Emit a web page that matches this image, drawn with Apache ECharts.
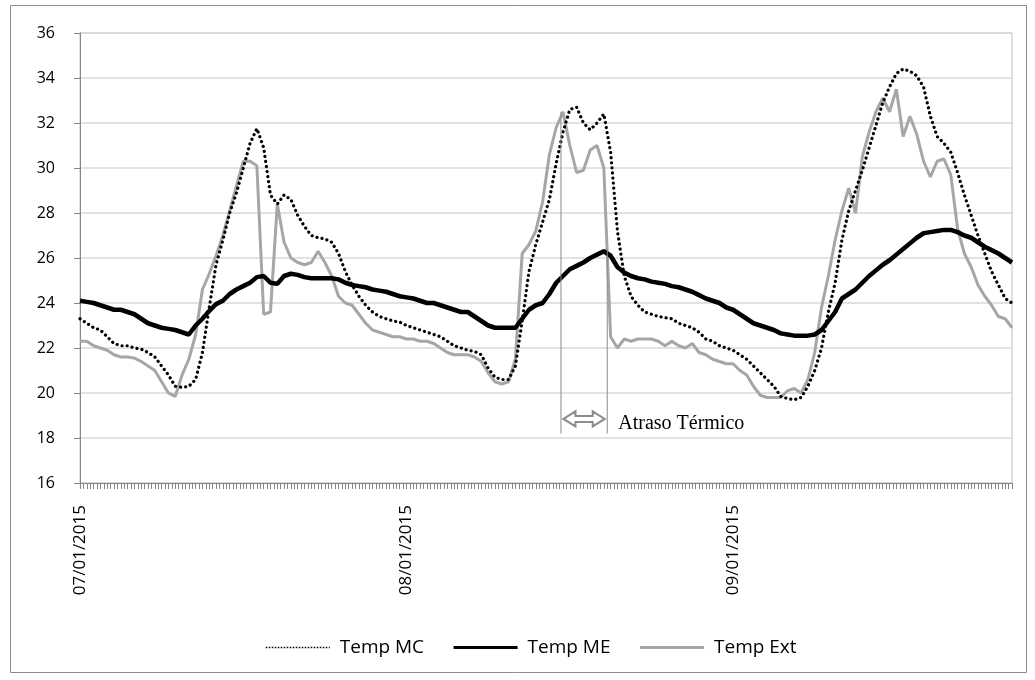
<!DOCTYPE html>
<html>
<head>
<meta charset="utf-8">
<script src="https://cdn.jsdelivr.net/npm/echarts@6/dist/echarts.min.js"></script>
<style>
html,body{margin:0;padding:0;background:#fff;}
#c{width:1035px;height:680px;}
</style>
</head>
<body>
<div id="c"></div>
<script>
// ---- data (half-hour readings, 07/01/2015 00:00 onward) ----
const dayLabels = ['07/01/2015', '08/01/2015', '09/01/2015'];
const yTicks = [16, 18, 20, 22, 24, 26, 28, 30, 32, 34, 36];

const tempMC = [
 23.3,23.1,22.9,22.8,22.5,22.2,22.1,22.1,22.0,21.95,21.8,21.6,21.2,20.8,20.3,20.25,20.3,20.6,21.8,23.8,
 25.7,26.8,28.0,28.9,30.0,31.1,31.75,30.9,28.8,28.4,28.8,28.6,27.9,27.4,27.0,26.9,26.85,26.7,26.2,25.4,
 24.8,24.3,23.9,23.6,23.4,23.3,23.2,23.15,23.0,22.9,22.8,22.7,22.6,22.5,22.3,22.1,22.0,21.9,21.85,21.7,
 21.1,20.7,20.6,20.6,21.2,23.2,25.4,26.6,27.6,28.6,30.2,31.6,32.6,32.7,32.0,31.7,32.0,32.4,30.7,27.2,
 25.2,24.3,23.9,23.6,23.5,23.4,23.35,23.3,23.1,23.0,22.9,22.7,22.4,22.3,22.1,22.0,21.9,21.7,21.5,21.2,
 20.9,20.6,20.3,19.85,19.75,19.7,19.8,20.3,21.0,22.0,23.6,24.9,26.8,28.1,29.0,29.9,30.9,31.9,32.9,33.6,
 34.2,34.4,34.3,34.1,33.6,32.3,31.4,31.1,30.7,29.8,28.8,27.9,27.0,26.2,25.4,24.8,24.2,24.0
];
const tempME = [
 24.1,24.05,24.0,23.9,23.8,23.7,23.7,23.6,23.5,23.3,23.1,23.0,22.9,22.85,22.8,22.7,22.6,23.0,23.3,23.65,
 23.95,24.1,24.4,24.6,24.75,24.9,25.15,25.2,24.9,24.85,25.2,25.3,25.25,25.15,25.1,25.1,25.1,25.1,25.05,24.9,
 24.8,24.75,24.7,24.6,24.55,24.5,24.4,24.3,24.25,24.2,24.1,24.0,24.0,23.9,23.8,23.7,23.6,23.6,23.4,23.2,
 23.0,22.9,22.9,22.9,22.9,23.3,23.7,23.9,24.0,24.4,24.9,25.2,25.5,25.65,25.8,26.0,26.15,26.3,26.1,25.6,
 25.35,25.2,25.1,25.05,24.95,24.9,24.85,24.75,24.7,24.6,24.5,24.35,24.2,24.1,24.0,23.8,23.7,23.5,23.3,23.1,
 23.0,22.9,22.8,22.65,22.6,22.55,22.55,22.55,22.6,22.8,23.2,23.6,24.2,24.4,24.6,24.9,25.2,25.45,25.7,25.9,
 26.15,26.4,26.65,26.9,27.1,27.15,27.2,27.25,27.25,27.15,27.0,26.9,26.7,26.5,26.35,26.2,26.0,25.8
];
const tempExt = [
 22.3,22.3,22.1,22.0,21.9,21.7,21.6,21.6,21.55,21.4,21.2,21.0,20.5,20.0,19.85,20.8,21.5,22.6,24.6,25.3,
 26.1,27.0,28.1,29.2,30.3,30.3,30.1,23.5,23.6,28.4,26.7,26.0,25.8,25.7,25.8,26.3,25.8,25.2,24.3,24.0,
 23.9,23.5,23.1,22.8,22.7,22.6,22.5,22.5,22.4,22.4,22.3,22.3,22.2,22.0,21.8,21.7,21.7,21.7,21.6,21.4,
 20.9,20.5,20.4,20.5,21.5,26.2,26.6,27.2,28.5,30.6,31.8,32.5,31.0,29.8,29.9,30.8,31.0,30.0,22.5,22.0,
 22.4,22.3,22.4,22.4,22.4,22.3,22.1,22.3,22.1,22.0,22.2,21.8,21.7,21.5,21.4,21.3,21.3,21.0,20.8,20.3,
 19.9,19.8,19.8,19.8,20.1,20.2,20.0,20.6,21.8,23.8,25.2,26.8,28.1,29.1,28.0,30.5,31.6,32.5,33.1,32.5,
 33.5,31.4,32.3,31.5,30.3,29.6,30.3,30.4,29.7,27.3,26.2,25.6,24.8,24.3,23.9,23.4,23.3,22.9
];

// thermal lag annotation (positions in half-hour steps / °C)
const lagMarks = [70.7, 77.5];
const lagTops = [32.5, 26.4];
const lagBottom = 18.2;
const lagArrowValue = 18.85;
const lagText = 'Atraso Térmico';

// category labels: one per half hour
const stepsPerDay = 48;
const categories = tempME.map((_, i) => {
  const d = dayLabels[Math.floor(i / stepsPerDay)];
  const m = (i % stepsPerDay) * 30;
  const hh = String(Math.floor(m / 60)).padStart(2, '0');
  const mm = String(m % 60).padStart(2, '0');
  return d + ' ' + hh + ':' + mm;
});

const chart = echarts.init(document.getElementById('c'), null, {renderer: 'canvas'});
const axisGray = '#868686';
const font = 'Open Sans';

const option = {
  animation: false,
  backgroundColor: '#fff',
  grid: {left: 80, right: 23, top: 33, bottom: 197, show: true, borderColor: '#bfbfbf', borderWidth: 1},
  xAxis: [{
    type: 'category', data: categories, boundaryGap: false,
    axisLine: {lineStyle: {color: axisGray, width: 1}},
    axisTick: {show: false},
    axisLabel: {interval: stepsPerDay - 1, rotate: 90, margin: 22, fontFamily: font, fontSize: 17, color: '#000',
      formatter: v => v.split(' ')[0]},
    splitLine: {show: false}
  }, {
    type: 'value', min: 0, max: categories.length - 1, interval: 0.5, position: 'bottom',
    axisLine: {show: false},
    axisTick: {show: true, length: 6, lineStyle: {color: axisGray}},
    axisLabel: {show: false},
    splitLine: {show: false}
  }],
  yAxis: {
    type: 'value', min: yTicks[0], max: yTicks[yTicks.length - 1], interval: 2,
    axisLine: {show: true, lineStyle: {color: axisGray, width: 1}},
    axisTick: {show: true, length: 6, lineStyle: {color: axisGray}},
    axisLabel: {margin: 25, fontFamily: font, fontSize: 16, color: '#000'},
    splitLine: {lineStyle: {color: '#d9d9d9', width: 1.5}}
  },
  legend: {
    left: 260, top: 633, itemWidth: 64, itemHeight: 14, itemGap: 28,
    itemStyle: {opacity: 0},
    formatter: n => '{t|' + n + '}',
    textStyle: {fontFamily: font, fontSize: 19, color: '#000',
      rich: {t: {fontFamily: font, fontSize: 19, color: '#000', padding: [0, 0, 0, 5]}}},
    data: [
      {name: 'Temp MC', lineStyle: {width: 1.5, type: [1.5, 1.5], cap: 'butt'}},
      {name: 'Temp ME', lineStyle: {width: 3}},
      {name: 'Temp Ext', lineStyle: {width: 3}}
    ]
  },
  series: [
    {name: 'Temp Ext', type: 'line', data: tempExt, symbol: 'none', z: 2,
      lineStyle: {color: '#a6a6a6', width: 3}, itemStyle: {color: '#a6a6a6'}},
    {name: 'Temp ME', type: 'line', data: tempME, symbol: 'none', z: 3,
      lineStyle: {color: '#000', width: 4.5}, itemStyle: {color: '#000'}},
    {name: 'Temp MC', type: 'line', data: tempMC, symbol: 'none', z: 4,
      lineStyle: {color: '#000', width: 3.2, type: [0.1, 5], cap: 'round'}, itemStyle: {color: '#000'}}
  ]
};
chart.setOption(option);

// annotation drawn from axis coordinates
const px = v => chart.convertToPixel({xAxisIndex: 1}, v);
const py = v => chart.convertToPixel({yAxisIndex: 0}, v);
const x1 = px(lagMarks[0]), x2 = px(lagMarks[1]);
const yb = py(lagBottom), ya = py(lagArrowValue);
const ax1 = x1 + 2.5, ax2 = x2 - 2.5, head = 12, hh = 7.5, sh = 3;
chart.setOption({
  graphic: [
    {type: 'rect', shape: {x: 10.5, y: 5.5, width: 1016, height: 667}, style: {fill: 'none', stroke: '#8c8c8c', lineWidth: 1}, silent: true, z: 0},
    {type: 'line', shape: {x1: x1, y1: py(lagTops[0]), x2: x1, y2: yb}, style: {stroke: '#8c8c8c', lineWidth: 1}, z: 10},
    {type: 'line', shape: {x1: x2, y1: py(lagTops[1]), x2: x2, y2: yb}, style: {stroke: '#8c8c8c', lineWidth: 1}, z: 10},
    {type: 'polygon', shape: {points: [
      [ax1, ya], [ax1 + head, ya - hh], [ax1 + head, ya - sh], [ax2 - head, ya - sh], [ax2 - head, ya - hh],
      [ax2, ya], [ax2 - head, ya + hh], [ax2 - head, ya + sh], [ax1 + head, ya + sh], [ax1 + head, ya + hh]
    ]}, style: {fill: '#fff', stroke: '#8c8c8c', lineWidth: 2}, z: 10},
    {type: 'text', x: x2 + 11, y: ya + 5, style: {text: lagText, fontFamily: 'Liberation Serif', fontSize: 20, fill: '#000', textVerticalAlign: 'middle'}, z: 10}
  ]
});
</script>
</body>
</html>
